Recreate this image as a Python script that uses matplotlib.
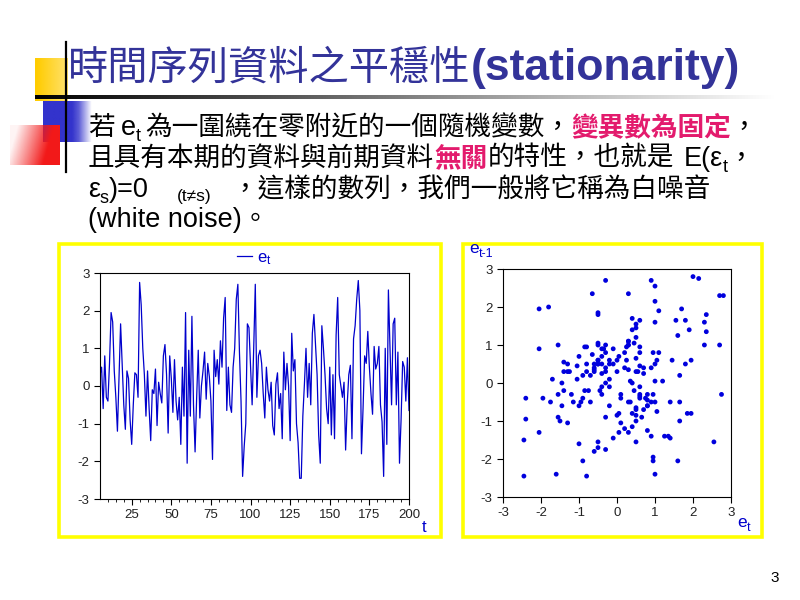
import numpy as np
import matplotlib
matplotlib.use('Agg')
import matplotlib.pyplot as plt
from matplotlib.transforms import IdentityTransform
from matplotlib.patches import Rectangle

plt.rcParams['font.family'] = ['Liberation Sans', 'Noto Sans CJK TC', 'DejaVu Sans']
plt.rcParams['axes.unicode_minus'] = False

# Serie e_t (t = 5 ... 200)
e = [0.3, 0.5, -0.6, 0.8, -0.3, -0.4, 0.6, 1.95, 1.7, 0.4,
     -0.3, -1.2, 0.2, 1.65, 0.6, -0.5, -1.15, 0.4, 0.2, -0.9,
     -1.55, -0.5, 0.35, 0.3, -0.3, 2.75, 2.15, 1.0, 0.3, -0.8,
     0.4, -0.6, -1.45, -0.1, -0.2, 0.45, -1.05, 0.1, -0.2, -0.45,
     0.8, 1.1, 0.3, -1.25, 0.8, 0.2, -0.7, 0.7, -0.4, -0.9,
     -0.3, -1.55, 0.5, -0.8, 1.95, -2.05, 0.95, -0.8, 1.85, -0.5,
     -1.75, -0.3, 0.95, -0.85, 0.0, 0.4, 0.9, -0.35, 0.6, 0.25,
     -0.4, -1.95, 0.95, 0.25, 0.7, 0.05, 1.2, 0.5, 1.8, 2.35,
     -0.65, 0.5, -0.5, -0.7, 0.5, 1.0, 2.3, 2.7, 0.9, -0.4,
     -2.4, -1.6, -1.0, 1.65, 1.55, 0.5, -0.5, 1.0, 2.7, -0.3,
     0.8, 0.95, 0.6, -0.2, -0.85, 0.5, -0.1, -0.4, 0.1, -1.05,
     -1.3, 0.05, 0.35, -0.6, -0.2, -1.4, 0.9, -0.1, 0.6, 0.0,
     -1.45, 1.4, 0.4, 0.7, -1.0, -1.5, -2.45, -2.45, -0.8, 0.05,
     1.0, -0.3, 0.6, -0.5, 1.4, 1.9, 1.1, 0.3, -1.3, -2.05,
     1.6, 1.0, 0.3, -0.6, -1.0, 0.5, -1.3, 0.3, -1.4, 1.35,
     2.35, 0.3, 0.0, -0.3, 0.1, -1.7, -0.5, 0.3, 0.55, -1.4,
     1.25, 1.6, 2.3, 2.8, 2.0, -1.8, -0.6, 0.8, 0.6, 1.45,
     0.5, -0.2, -0.75, 1.05, 0.45, 0.6, 1.05, -0.5, -0.95, -2.4,
     1.0, -1.55, 2.55, 1.0, -0.5, 1.65, 1.8, -0.5, 0.9, -2.05,
     -0.9, 0.65, 0.5, -0.4, 0.75, -0.65]
t = np.arange(201 - len(e), 201)
x_ticks = [25, 50, 75, 100, 125, 150, 175, 200]
y_ticks = [-3, -2, -1, 0, 1, 2, 3]

# diagrama de dispersion: e_t contra e_(t-1)
e_arr = np.array(e)
e_now = e_arr[1:]
e_prev = e_arr[:-1]

AZUL = '#0000CC'
TITULO = '#333399'
ROSA = '#E31B6D'

fig = plt.figure(figsize=(8, 6), dpi=100)
fig.patch.set_facecolor('white')
renderer = fig.canvas.get_renderer()

# capa de fondo en pixeles (0,0 arriba a la izquierda)
bg = fig.add_axes([0, 0, 1, 1])
bg.axis('off')

# decoracion de la diapositiva
sq = np.ones((2, 8, 4))
sq[..., :3] = (1.0, 0.8, 0.0)
sq[..., 3] = np.linspace(1, 0.6, 8)
bg.imshow(sq, extent=[35, 68, 101, 58], aspect='auto', interpolation='bilinear', zorder=1)
bq = np.ones((2, 8, 4))
bq[..., :3] = (0.2, 0.2, 0.8)
bq[..., 3] = np.concatenate([np.ones(5), np.linspace(0.8, 0.0, 3)])
bg.imshow(bq, extent=[43, 95, 142, 101], aspect='auto', interpolation='bilinear', zorder=1)
n = 64
xx, yy = np.meshgrid(np.linspace(0, 1, n), np.linspace(0, 1, n))
rq = np.ones((n, n, 4))
rq[..., :3] = (0.95, 0.1, 0.1)
rq[..., 3] = np.clip(1.3 * xx + 0.3 * yy - 0.15, 0.05, 1)
bg.imshow(rq, extent=[10, 60, 165, 125], aspect='auto', interpolation='bilinear', zorder=1)
bg.plot([66, 66], [42, 172], color='black', lw=1.6, zorder=3)
linea = np.ones((1, 256, 4))
linea[..., :3] = np.linspace(0.0, 1.0, 256)[None, :, None] * np.ones(3)
bg.imshow(linea, extent=[35, 775, 99, 95], aspect='auto', interpolation='bilinear', zorder=2)

# marcos amarillos
bg.add_patch(Rectangle((59, 244), 382, 293, fill=False, ec='#FFFF00', lw=2.6, zorder=2))
bg.add_patch(Rectangle((463, 244), 299, 293, fill=False, ec='#FFFF00', lw=2.6, zorder=2))
bg.set_xlim(0, 800)
bg.set_ylim(600, 0)


def escribir(x, y, partes):
    # y es la linea base en pixeles desde arriba, dy desplaza hacia abajo
    for s, kw in partes:
        kw = dict(kw)
        if s is None:
            x += kw['gap']
            continue
        dy = kw.pop('dy', 0)
        txt = fig.text(x, 600 - y - dy, s, transform=IdentityTransform(), va='baseline', **kw)
        x += txt.get_window_extent(renderer).width
    return x


cjk = dict(family=['Noto Sans CJK TC'], fontsize=19.2, color='black')
lat = dict(family=['Liberation Sans'], fontsize=19.5, color='black')
sub = dict(family=['Liberation Sans'], fontsize=13, color='black', dy=6)
rosa = dict(family=['Noto Sans CJK TC'], fontsize=19.2, color=ROSA, weight='bold')

escribir(68, 80, [('時間序列資料之平穩性', dict(family=['Noto Sans CJK TC'], fontsize=29, color=TITULO)),
                  ('(stationarity)', dict(family=['Liberation Sans'], fontsize=32, color=TITULO, weight='bold'))])

escribir(88, 135, [('若', cjk), (None, dict(gap=6)), ('e', lat), ('t', sub), (None, dict(gap=4)),
                   ('為一圍繞在零附近的一個隨機變數，', cjk), ('變異數為固定', rosa), ('，', cjk)])
escribir(88, 166, [('且具有本期的資料與前期資料', cjk), ('無關', rosa), ('的特性，也就是', cjk),
                   (None, dict(gap=10)), ('E(ε', lat), ('t', sub), ('，', cjk)])
escribir(88, 197, [('ε', lat), ('s', sub), (')=0', lat), (None, dict(gap=28)),
                   ('(t≠s)', dict(family=['Liberation Sans'], fontsize=12.5, color='black', dy=4)),
                   (None, dict(gap=20)), ('，這樣的數列，我們一般將它稱為白噪音', cjk)])
escribir(88, 227, [('(white noise)', lat), ('。', cjk)])

# grafico de la serie
ax1 = fig.add_axes([100 / 800, (600 - 499) / 600, 309 / 800, 226 / 600])
ax1.plot(t, e, color=AZUL, lw=0.9, label=r'$\mathregular{e_t}$')
ax1.set_xlim(t[0], t[-1])
ax1.set_ylim(-3, 3)
ax1.set_xticks(x_ticks)
ax1.set_xticks(np.arange(10, 201, 5), minor=True)
ax1.set_yticks(y_ticks)
ax1.tick_params(which='major', direction='out', length=4, width=0.8, labelsize=9.5, labelcolor='#222222')
ax1.tick_params(which='minor', direction='out', length=2, width=0.6)
for s in ax1.spines.values():
    s.set_linewidth(0.8)
leg = ax1.legend(loc='lower center', bbox_to_anchor=(0.5, 0.99), frameon=False, fontsize=12,
                 handlelength=0.9, handletextpad=0.3, borderaxespad=0.1, labelcolor=AZUL)
fig.text(424, 600 - 532, 't', transform=IdentityTransform(), fontsize=12, color=AZUL, ha='center')

# diagrama de dispersion
ax2 = fig.add_axes([503 / 800, (600 - 497) / 600, 228 / 800, 228 / 600])
ax2.scatter(e_now, e_prev, s=12, color='#0000DD', edgecolors='none')
ax2.set_xlim(-3, 3)
ax2.set_ylim(-3, 3)
ax2.set_xticks(y_ticks)
ax2.set_yticks(y_ticks)
ax2.tick_params(direction='out', length=4, width=0.8, labelsize=9.5, labelcolor='#222222')
for s in ax2.spines.values():
    s.set_linewidth(0.8)

etq = dict(family=['Liberation Sans'], fontsize=12.5, color=AZUL)
etq_sub = dict(family=['Liberation Sans'], fontsize=9, color=AZUL, dy=4)
escribir(469, 253, [('e', etq), ('t-1', etq_sub)])
escribir(737, 527, [('e', etq), ('t', etq_sub)])

fig.text(770, 600 - 582, '3', transform=IdentityTransform(), fontsize=11, color='black')

fig.savefig('out.png', dpi=100)
